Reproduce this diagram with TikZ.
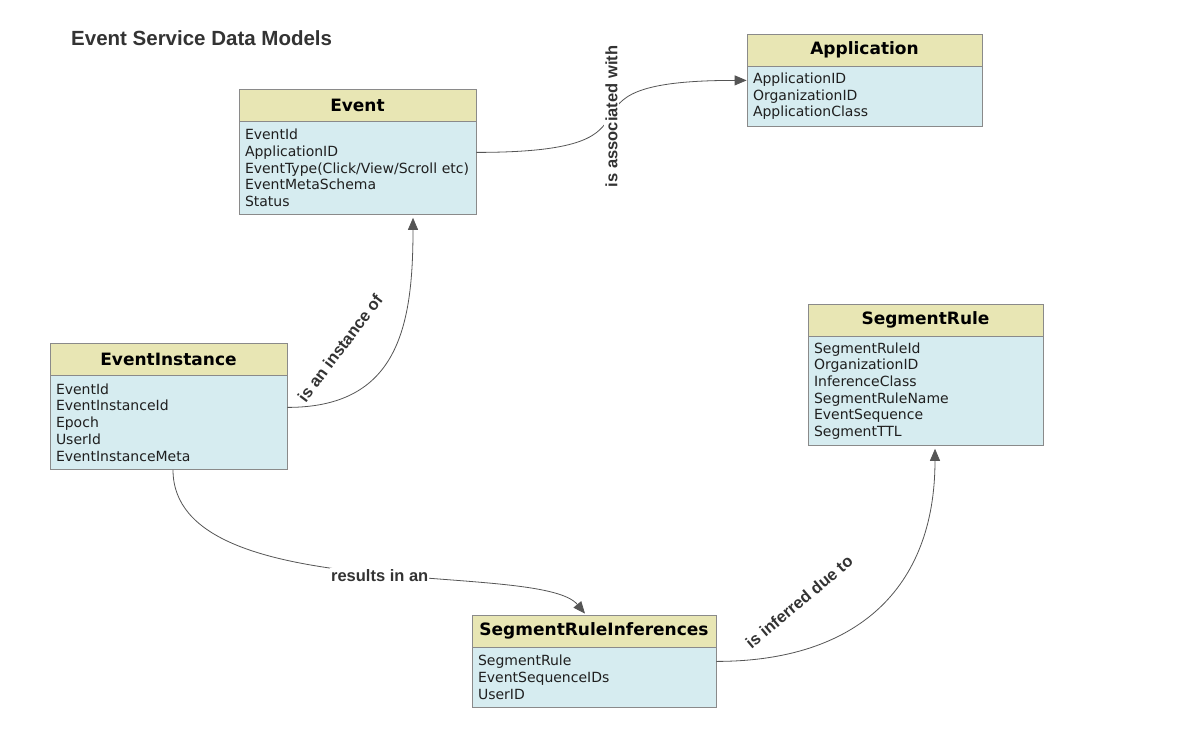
\documentclass[tikz,border=0pt]{standalone}
\usepackage{fontspec}
\setmainfont{DejaVu Sans}
\newfontfamily\lblfont{Liberation Sans}
\usetikzlibrary{arrows.meta}
\definecolor{hdrfill}{RGB}{232,230,180}
\definecolor{bodyfill}{RGB}{214,236,240}
\definecolor{boxline}{RGB}{138,138,138}
\definecolor{linkgray}{RGB}{85,85,85}
\definecolor{labelgray}{RGB}{51,51,51}
\begin{document}
\begin{tikzpicture}[x=1pt,y=-1pt,
  hdr/.style={draw=boxline, fill=hdrfill, line width=0.8pt, minimum height=32pt, inner sep=0pt,
    font=\fontsize{17}{20}\selectfont\bfseries, text=black},
  body/.style={draw=boxline, fill=bodyfill, line width=0.8pt, anchor=north, align=left,
    inner xsep=6pt, inner ysep=0pt, font=\fontsize{14}{16.7}\selectfont, text=black!88},
  conn/.style={draw=linkgray, line width=0.8pt, -{Triangle[length=12pt,width=10pt]}},
  lbl/.style={font=\lblfont\fontsize{16.5}{18}\selectfont\bfseries, text=labelgray, inner sep=1pt}
]
\useasboundingbox[fill=white] (0,0) rectangle (1178,738);

\node[font=\lblfont\fontsize{20.5}{24}\selectfont\bfseries, text=labelgray, anchor=base west, inner sep=0pt]
  (title) at (71,46) {Event Service Data Models};

% Event
\node[hdr, minimum width=237pt] (evh) at (357.5,105) {Event};
\node[body, text width=225pt, minimum height=93pt] (ev) at (357.5,121)
  {EventId\\ApplicationID\\EventType(Click/View/Scroll etc)\\EventMetaSchema\\Status};

% Application
\node[hdr, minimum width=235pt] (apph) at (864.5,50) {Application};
\node[body, text width=223pt, minimum height=60pt] (app) at (864.5,66)
  {ApplicationID\\OrganizationID\\ApplicationClass};

% EventInstance
\node[hdr, minimum width=237pt] (eih) at (168.5,359) {EventInstance};
\node[body, text width=225pt, minimum height=94pt] (ei) at (168.5,375)
  {EventId\\EventInstanceId\\Epoch\\UserId\\EventInstanceMeta};

% SegmentRule
\node[hdr, minimum width=235pt] (srh) at (925.5,320) {SegmentRule};
\node[body, text width=223pt, minimum height=109pt] (sr) at (925.5,336)
  {SegmentRuleId\\OrganizationID\\InferenceClass\\SegmentRuleName\\EventSequence\\SegmentTTL};

% SegmentRuleInferences
\node[hdr, minimum width=244pt] (srih) at (594,631) {SegmentRuleInferences};
\node[body, text width=232pt, minimum height=60pt] (sri) at (594,647)
  {SegmentRule\\EventSequenceIDs\\UserID};

% connectors
\draw[conn] ([yshift=15.5pt]ev.east) .. controls +(220,0) and +(-220,0) .. ([yshift=16pt]app.west)
  node[lbl, fill=white, rotate=90, pos=0.5] (lbassoc) {is associated with};

\draw[conn] ([yshift=15pt]ei.east) .. controls +(110,0) and +(0,110) .. ([xshift=55.5pt,yshift=-3pt]ev.south);
\node[lbl, fill=white, rotate=53] (lbinst) at (340,348) {is an instance of};

\draw[conn] ([xshift=4.5pt]ei.south) .. controls +(0,138) and +(-45,-54) .. ([xshift=-9pt,yshift=1pt]srih.north)
  node[lbl, fill=white, pos=0.53] (lbres) {results in an};

\draw[conn] ([yshift=16pt]sri.east) .. controls +(140,0) and +(0,140) .. ([xshift=9.5pt,yshift=-3pt]sr.south);
\node[lbl, rotate=40] (lbinf) at (799,602) {is inferred due to};
\end{tikzpicture}
\end{document}
